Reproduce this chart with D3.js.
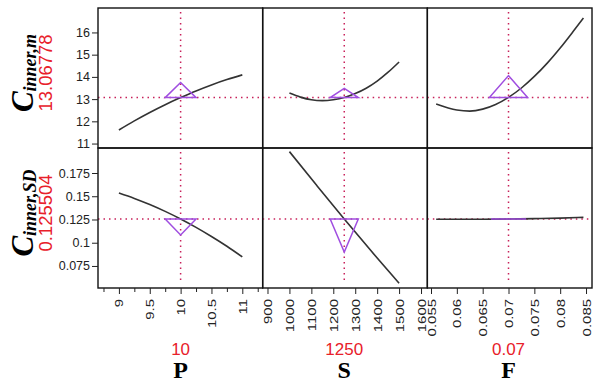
<!DOCTYPE html>
<html>
<head>
<meta charset="utf-8">
<script src="https://d3js.org/d3.v7.min.js"></script>
<style>
    body { margin: 0; background: #fff; }
    .tick text { fill: #222; font-family: "Liberation Sans", Arial, sans-serif; }
    .tick line { stroke: #222; }
</style>
</head>
<body>
<div id="chart"></div>
<script>
    // factors (columns)
    var factors = ["P", "S", "F"];
    var factorCurrent = [10, 1250, 0.07];
    var factorLabels = ["10", "1250", "0.07"];
    var factorDomains = [[8.661, 11.33], [878, 1628.8], [0.05429, 0.08616]];
    var factorTicks = [
        [9, 9.5, 10, 10.5, 11],
        [900, 1000, 1100, 1200, 1300, 1400, 1500, 1600],
        [0.055, 0.06, 0.065, 0.07, 0.075, 0.08, 0.085]
    ];
    var factorMinorTicks = [[8.75, 9.25, 9.75, 10.25, 10.75, 11.25], [], []];

    // responses (rows)
    var responseSubs = ["inner,m", "inner,SD"];
    var responseCurrent = [13.06778, 0.125504];
    var responseLabels = ["13.06778", "0.125504"];
    var responseDomains = [[10.8, 17.1], [0.0513, 0.2019]];
    var responseTicks = [
        [11, 12, 13, 14, 15, 16],
        [0.075, 0.1, 0.125, 0.15, 0.175]
    ];

    // profile curves: [x values, y values] per row/column
    var curveM_P = [[9, 9.25, 9.5, 9.75, 10, 10.25, 10.5, 10.75, 11],
                    [11.61, 12.02, 12.40, 12.75, 13.07, 13.37, 13.64, 13.88, 14.09]];
    var curveM_S = [[1000, 1050, 1100, 1150, 1200, 1250, 1300, 1350, 1400, 1450, 1500],
                    [13.27, 13.09, 12.97, 12.93, 12.97, 13.07, 13.25, 13.49, 13.81, 14.21, 14.67]];
    var curveM_F = [[0.056, 0.06, 0.0625, 0.065, 0.0675, 0.07, 0.0725, 0.075, 0.0775, 0.08, 0.0825, 0.0845],
                    [12.78, 12.51, 12.46, 12.55, 12.76, 13.08, 13.50, 14.02, 14.62, 15.30, 16.04, 16.65]];
    var curveSD_P = [[9, 9.25, 9.5, 9.75, 10, 10.25, 10.5, 10.75, 11],
                     [0.1535, 0.1477, 0.1411, 0.1337, 0.1255, 0.1165, 0.1067, 0.0962, 0.0847]];
    var curveSD_S = [[1000, 1125, 1250, 1375, 1500],
                     [0.198, 0.1615, 0.1255, 0.0905, 0.0565]];
    var curveSD_F = [[0.056, 0.06, 0.065, 0.07, 0.075, 0.08, 0.0845],
                     [0.1253, 0.1252, 0.1253, 0.1255, 0.1259, 0.1265, 0.1273]];
    var curves = [[curveM_P, curveM_S, curveM_F], [curveSD_P, curveSD_S, curveSD_F]];

    // sensitivity triangles: [half width (x units), height (y units)]
    var triM = [[0.25, 0.68], [64, 0.41], [0.0037, 0.99]];
    var triSD = [[0.25, -0.0172], [64, -0.0355], [0.0034, 0]];
    var triangles = [triM, triSD];

    var width = 601, height = 383;
    var marginLeft = 98, marginTop = 8;
    var panelW = 164.67, panelH = 140;
    var red = "#e8202a", cross = "#c8205a", purple = "#a04ee0";

    var svg = d3.select("#chart").append("svg")
        .attr("width", width)
        .attr("height", height);

    var xScales = factorDomains.map(function (d) {
        return d3.scaleLinear().domain(d).range([0, panelW]);
    });
    var yScales = responseDomains.map(function (d) {
        return d3.scaleLinear().domain(d).range([panelH, 0]);
    });

    var curveLine = d3.line().curve(d3.curveMonotoneX);

    for (var r = 0; r < 2; r++) {
        for (var c = 0; c < 3; c++) {
            var x = xScales[c], y = yScales[r];
            var g = svg.append("g")
                .attr("transform", "translate(" + (marginLeft + c * panelW) + "," + (marginTop + r * panelH) + ")");

            // crosshairs
            g.append("line")
                .attr("x1", 0).attr("x2", panelW)
                .attr("y1", y(responseCurrent[r])).attr("y2", y(responseCurrent[r]))
                .attr("stroke", cross).attr("stroke-width", 1.5)
                .attr("stroke-dasharray", "1.5,4");
            g.append("line")
                .attr("x1", x(factorCurrent[c])).attr("x2", x(factorCurrent[c]))
                .attr("y1", 4).attr("y2", panelH - 4)
                .attr("stroke", cross).attr("stroke-width", 1.5)
                .attr("stroke-dasharray", "1.5,4");

            // profile curve
            var cd = curves[r][c];
            var pts = cd[0].map(function (v, i) { return [x(v), y(cd[1][i])]; });
            g.append("path")
                .attr("d", curveLine(pts))
                .attr("fill", "none")
                .attr("stroke", "#333")
                .attr("stroke-width", 1.6);

            // triangle
            var t = triangles[r][c];
            var cx = factorCurrent[c], cy = responseCurrent[r];
            var tri = [[x(cx - t[0]), y(cy)], [x(cx + t[0]), y(cy)], [x(cx), y(cy + t[1])]];
            g.append("path")
                .attr("d", "M" + tri.join("L") + "Z")
                .attr("fill", "none")
                .attr("stroke", purple)
                .attr("stroke-width", 1.5);

            // frame
            g.append("rect")
                .attr("width", panelW).attr("height", panelH)
                .attr("fill", "none")
                .attr("stroke", "#111")
                .attr("stroke-width", 1.4);

            // axes
            if (c == 0) {
                g.append("g")
                    .call(d3.axisLeft(y).tickValues(responseTicks[r]).tickSize(6).tickPadding(2)
                        .tickFormat(function (d) { return String(d); }))
                    .call(function (a) { a.select(".domain").remove(); })
                    .selectAll("text").style("font-size", "12.5px");
            }
            if (r == 1) {
                g.append("g")
                    .attr("transform", "translate(0," + panelH + ")")
                    .call(d3.axisBottom(x).tickValues(factorMinorTicks[c]).tickSize(4).tickFormat(""))
                    .call(function (a) { a.select(".domain").remove(); });
                var ax = g.append("g")
                    .attr("transform", "translate(0," + panelH + ")")
                    .call(d3.axisBottom(x).tickValues(factorTicks[c]).tickSize(6)
                        .tickFormat(function (d) { return String(d); }))
                    .call(function (a) { a.select(".domain").remove(); });
                ax.selectAll("text")
                    .style("font-size", "11.5px")
                    .attr("text-anchor", "end")
                    .attr("y", 0)
                    .attr("dy", "0.35em")
                    .attr("x", -11 / 1.3)
                    .attr("transform", "rotate(-90) scale(1.3,1)");
            }
        }
    }

    // factor labels under columns
    factors.forEach(function (f, c) {
        var px = marginLeft + c * panelW + xScales[c](factorCurrent[c]);
        svg.append("text")
            .attr("x", px).attr("y", 355)
            .attr("text-anchor", "middle")
            .attr("fill", red)
            .style("font-family", "'Liberation Sans', Arial, sans-serif")
            .style("font-size", "17px")
            .text(factorLabels[c]);
        svg.append("text")
            .attr("x", px).attr("y", 378)
            .attr("text-anchor", "middle")
            .attr("fill", "#000")
            .style("font-family", "'Liberation Serif', 'Times New Roman', serif")
            .style("font-weight", "bold")
            .style("font-size", "24px")
            .text(f);
    });

    // response labels on the left
    responseSubs.forEach(function (s, r) {
        var cy = marginTop + r * panelH + panelH / 2 - 5;
        var lab = svg.append("text")
            .attr("transform", "translate(33," + cy + ") rotate(-90)")
            .attr("text-anchor", "middle")
            .style("font-family", "'Liberation Serif', 'Times New Roman', serif")
            .style("font-weight", "bold")
            .style("font-style", "italic");
        lab.append("tspan").style("font-size", "31px").text("C");
        lab.append("tspan").style("font-size", "18px").attr("dy", 3).text(s);

        svg.append("text")
            .attr("transform", "translate(52," + cy + ") rotate(-90)")
            .attr("text-anchor", "middle")
            .attr("fill", red)
            .style("font-family", "'Liberation Sans', Arial, sans-serif")
            .style("font-size", "18.5px")
            .text(responseLabels[r]);
    });
</script>
</body>
</html>
